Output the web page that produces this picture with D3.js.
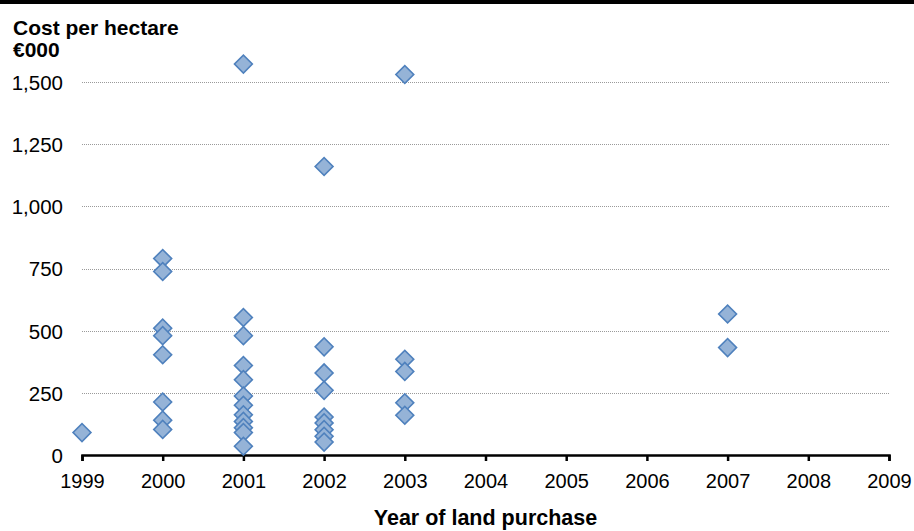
<!DOCTYPE html>
<html>
<head>
<meta charset="utf-8">
<script src="https://cdn.jsdelivr.net/npm/d3@7/dist/d3.min.js"></script>
<style>
  html, body { margin: 0; padding: 0; background: #fff; }
  svg { display: block; font-family: "Liberation Sans", Arial, sans-serif; }
</style>
</head>
<body>
<svg id="chart" width="914" height="531"></svg>
<script>
// Land purchases: year of purchase and cost per hectare (€000)
const purchaseYears = [
  1999,
  2000, 2000, 2000, 2000, 2000, 2000, 2000, 2000,
  2001, 2001, 2001, 2001, 2001, 2001, 2001, 2001, 2001, 2001, 2001, 2001,
  2002, 2002, 2002, 2002, 2002, 2002, 2002, 2002, 2002,
  2003, 2003, 2003, 2003, 2003,
  2007, 2007
];
const costPerHectare = [
  90,
  790, 738, 510, 480, 403, 213, 140, 103,
  1572, 553, 480, 360, 303, 237, 200, 162, 135, 110, 90, 35,
  1160, 435, 330, 260, 153, 129, 102, 75, 52,
  1530, 385, 336, 210, 160,
  567, 432
];
const xTicks = [1999, 2000, 2001, 2002, 2003, 2004, 2005, 2006, 2007, 2008, 2009];
const yTicks = [0, 250, 500, 750, 1000, 1250, 1500];

const svg = d3.select("#chart");
const W = 914;

const x = d3.scaleLinear().domain([1999, 2009]).range([82, 889]);
const y = d3.scaleLinear().domain([0, 1500]).range([455, 82]);

// top rule
svg.append("rect").attr("x", 0).attr("y", 0).attr("width", W).attr("height", 4).attr("fill", "#000");

// titles
svg.append("text").attr("x", 13).attr("y", 35)
  .attr("font-size", 21).attr("font-weight", "bold").text("Cost per hectare");
svg.append("text").attr("x", 13).attr("y", 57)
  .attr("font-size", 21).attr("font-weight", "bold").text("€000");

// horizontal gridlines
svg.append("g").selectAll("line").data(yTicks.filter(d => d > 0)).join("line")
  .attr("x1", x(1999)).attr("x2", x(2009))
  .attr("y1", d => Math.round(y(d)) + 0.5).attr("y2", d => Math.round(y(d)) + 0.5)
  .attr("stroke", "#9a9a9a").attr("stroke-width", 1).attr("stroke-dasharray", "1,1");

// y axis labels
const yAxis = d3.axisLeft(y).tickValues(yTicks).tickSize(0).tickPadding(0)
  .tickFormat(d3.format(","));
const gy = svg.append("g").attr("transform", "translate(63,0)").call(yAxis);
gy.select(".domain").remove();
gy.selectAll("text").attr("font-size", 20.5).attr("font-family", "Liberation Sans, Arial, sans-serif")
  .attr("fill", "#000").attr("dy", "0.36em");

// x axis
const xAxis = d3.axisBottom(x).tickValues(xTicks).tickSize(6).tickPadding(13)
  .tickFormat(d3.format("d"));
const gx = svg.append("g").attr("transform", "translate(0,455)").call(xAxis);
gx.select(".domain").attr("stroke", "#000").attr("stroke-width", 2.5);
gx.selectAll(".tick line").attr("stroke", "#000").attr("stroke-width", 2.5);
gx.selectAll("text").attr("font-size", 20).attr("font-family", "Liberation Sans, Arial, sans-serif")
  .attr("fill", "#000");

svg.append("text").attr("x", (x(1999) + x(2009)) / 2).attr("y", 525)
  .attr("text-anchor", "middle").attr("font-size", 21.5).attr("font-weight", "bold")
  .text("Year of land purchase");

// diamond markers
const points = purchaseYears.map((yr, i) => ({ yr, v: costPerHectare[i] }));
const diamond = d3.symbol().type(d3.symbolSquare).size(160);
svg.append("g").selectAll("path").data(points).join("path")
  .attr("d", diamond)
  .attr("transform", d => `translate(${x(d.yr)},${y(d.v)}) rotate(45)`)
  .attr("fill", "#95b3d7").attr("stroke", "#4f81bd").attr("stroke-width", 1.6);
</script>
</body>
</html>
